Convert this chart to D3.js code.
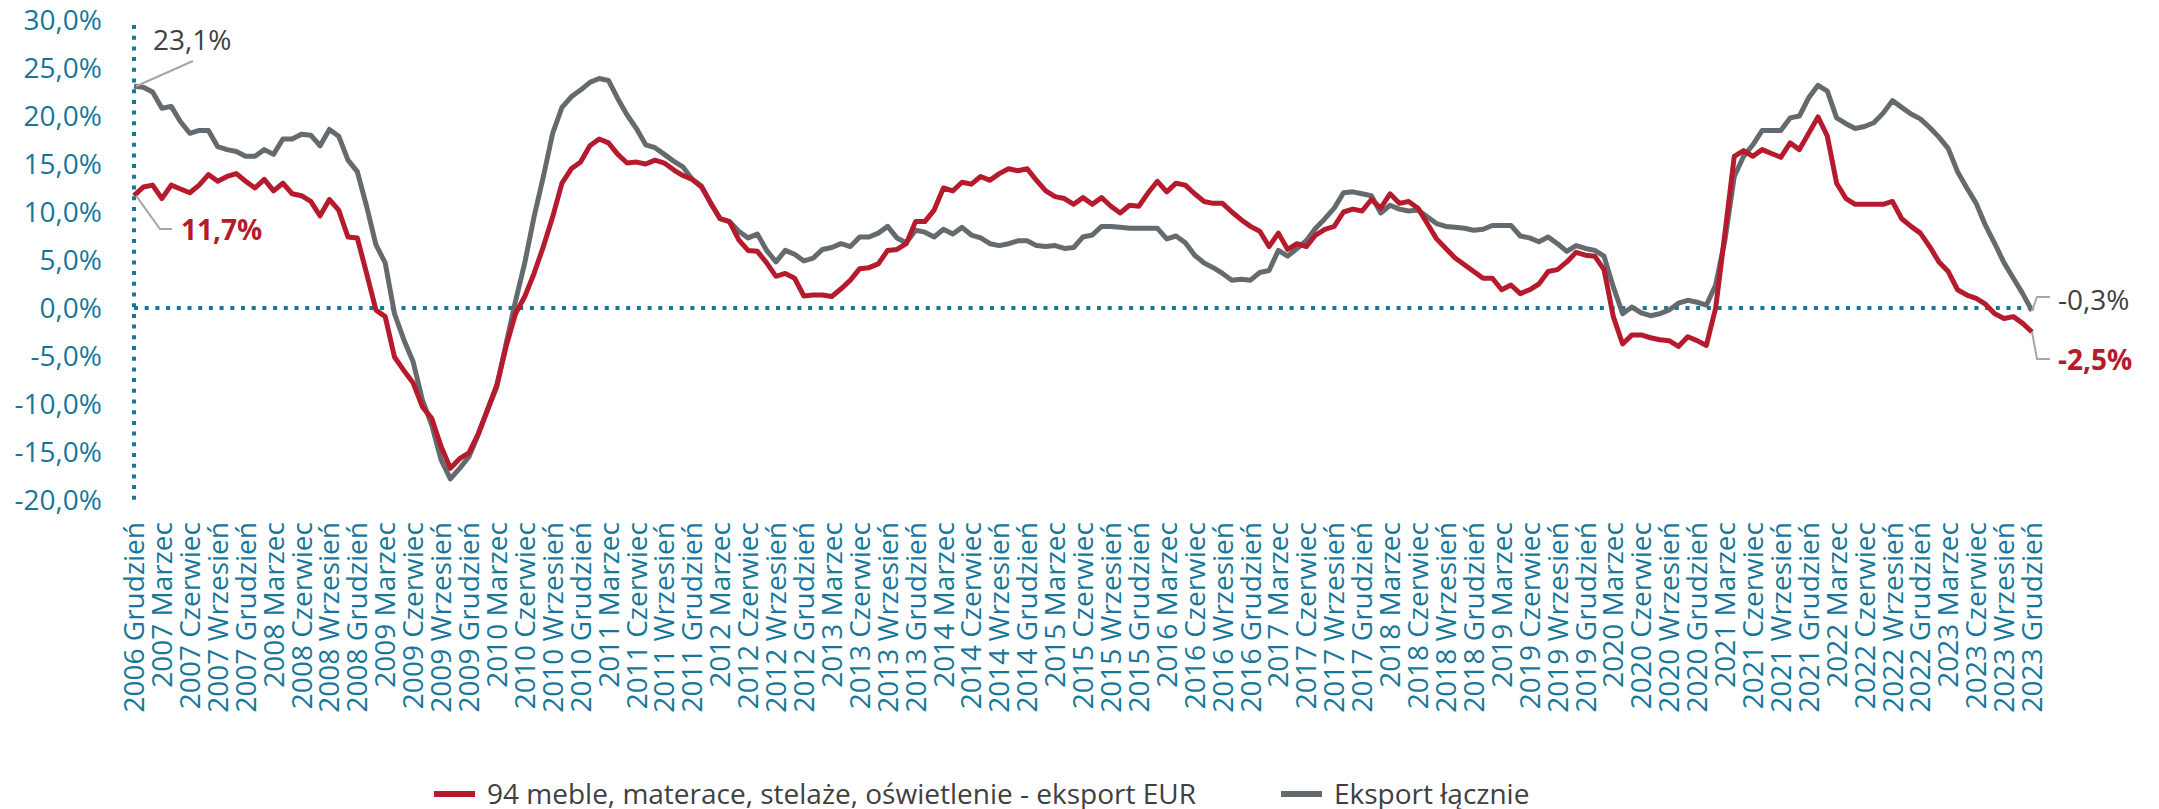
<!DOCTYPE html>
<html>
<head>
<meta charset="utf-8">
<script src="https://cdn.jsdelivr.net/npm/d3@7"></script>
<style>
  body { margin: 0; background: #fff; }
  svg { display: block; font-family: "Open Sans", sans-serif; }
</style>
</head>
<body>
<svg id="chart" width="2159" height="809"></svg>
<script>
// months Dec 2006 .. Dec 2023
var monthNames = ["Styczeń", "Luty", "Marzec", "Kwiecień", "Maj", "Czerwiec",
  "Lipiec", "Sierpień", "Wrzesień", "Październik", "Listopad", "Grudzień"];
var firstYear = 2006, lastYear = 2023;

// 94 meble, materace, stelaże, oświetlenie - eksport EUR (first value = 2006 Grudzień, then Jan..Dec rows)
var furniture = [11.7,
  12.6, 12.8, 11.4, 12.8, 12.4, 12.0, 12.8, 13.9, 13.2, 13.7, 14.0, 13.2,
  12.5, 13.4, 12.2, 13.0, 11.9, 11.7, 11.1, 9.6, 11.3, 10.2, 7.4, 7.3,
  3.6, -0.2, -0.9, -5.1, -6.5, -7.8, -10.3, -11.5, -14.4, -16.7, -15.7, -15.1,
  -13.1, -10.6, -8.0, -4.0, -0.6, 1.2, 3.6, 6.4, 9.5, 13.0, 14.5, 15.2,
  16.9, 17.6, 17.2, 16.0, 15.1, 15.2, 15.0, 15.4, 15.1, 14.4, 13.8, 13.4,
  12.6, 10.9, 9.3, 9.0, 7.1, 6.0, 5.9, 4.7, 3.3, 3.6, 3.1, 1.25,
  1.35, 1.35, 1.2, 2.0, 2.9, 4.1, 4.2, 4.6, 6.0, 6.1, 6.7, 9.0,
  9.0, 10.2, 12.5, 12.2, 13.1, 12.9, 13.7, 13.3, 14.0, 14.5, 14.3, 14.5,
  13.3, 12.2, 11.6, 11.4, 10.8, 11.5, 10.8, 11.5, 10.6, 9.9, 10.7, 10.6,
  12.0, 13.2, 12.1, 13.0, 12.8, 11.9, 11.1, 10.9, 10.9, 10.0, 9.2, 8.5,
  8.0, 6.4, 7.8, 6.1, 6.7, 6.4, 7.6, 8.2, 8.5, 10.0, 10.3, 10.1,
  11.3, 10.4, 11.9, 10.9, 11.1, 10.4, 8.8, 7.2, 6.2, 5.2, 4.5, 3.8,
  3.1, 3.1, 1.9, 2.4, 1.5, 1.9, 2.5, 3.8, 4.0, 4.8, 5.8, 5.5,
  5.4, 4.0, -0.9, -3.75, -2.8, -2.8, -3.1, -3.3, -3.4, -4.0, -3.0, -3.4,
  -3.9, 0.0, 7.8, 15.8, 16.4, 15.8, 16.5, 16.1, 15.7, 17.2, 16.5, 18.2,
  19.9, 17.9, 13.0, 11.4, 10.8, 10.8, 10.8, 10.8, 11.1, 9.3, 8.5, 7.8,
  6.4, 4.8, 3.8, 1.9, 1.35, 1.0, 0.4, -0.6, -1.1, -0.9, -1.6, -2.5];

// Eksport łącznie
var totalExport = [23.1,
  23.0, 22.5, 20.8, 21.0, 19.4, 18.2, 18.5, 18.5, 16.8, 16.5, 16.3, 15.8,
  15.8, 16.5, 16.0, 17.6, 17.6, 18.1, 18.0, 16.9, 18.6, 17.9, 15.4, 14.2,
  10.6, 6.6, 4.7, -0.6, -3.3, -5.6, -9.6, -12.2, -15.8, -17.8, -16.7, -15.5,
  -13.2, -10.6, -8.2, -3.7, 0.7, 4.7, 9.5, 13.7, 18.2, 20.9, 22.0, 22.7,
  23.5, 23.9, 23.7, 21.8, 20.1, 18.7, 17.0, 16.7, 16.0, 15.3, 14.7, 13.4,
  12.7, 10.9, 9.3, 9.0, 8.0, 7.3, 7.7, 6.0, 4.8, 6.0, 5.6, 4.9,
  5.2, 6.1, 6.3, 6.7, 6.4, 7.4, 7.4, 7.8, 8.5, 7.3, 6.8, 8.1,
  7.9, 7.4, 8.2, 7.7, 8.4, 7.6, 7.3, 6.7, 6.5, 6.7, 7.0, 7.0,
  6.5, 6.4, 6.5, 6.2, 6.3, 7.4, 7.6, 8.5, 8.5, 8.4, 8.3, 8.3,
  8.3, 8.3, 7.2, 7.5, 6.8, 5.5, 4.7, 4.2, 3.6, 2.9, 3.0, 2.9,
  3.7, 3.9, 6.0, 5.4, 6.2, 7.0, 8.3, 9.3, 10.4, 12.0, 12.1, 11.9,
  11.7, 9.9, 10.7, 10.3, 10.1, 10.2, 9.5, 8.8, 8.5, 8.4, 8.3, 8.1,
  8.2, 8.6, 8.6, 8.6, 7.5, 7.3, 6.9, 7.4, 6.7, 5.9, 6.5, 6.2,
  6.0, 5.4, 2.2, -0.6, 0.1, -0.5, -0.8, -0.6, -0.2, 0.5, 0.8, 0.6,
  0.3, 2.4, 7.1, 13.7, 15.8, 17.0, 18.5, 18.5, 18.5, 19.8, 20.0, 21.9,
  23.2, 22.6, 19.8, 19.2, 18.7, 18.9, 19.3, 20.3, 21.6, 20.9, 20.2, 19.7,
  18.8, 17.8, 16.6, 14.2, 12.5, 10.9, 8.6, 6.7, 4.7, 3.1, 1.5, -0.3];

var yTicks = [-20, -15, -10, -5, 0, 5, 10, 15, 20, 25, 30];

var seriesNames = ["94 meble, materace, stelaże, oświetlenie - eksport EUR", "Eksport łącznie"];
var seriesColors = ["#b51b2c", "#646a6d"];

// category labels
var categories = [firstYear + " " + monthNames[11]];
for (var yr = firstYear + 1; yr <= lastYear; yr++) {
  monthNames.forEach(function(m) { categories.push(yr + " " + m); });
}

var teal = "#17779a";
var svg = d3.select("#chart");

var x = d3.scalePoint().domain(categories).range([134, 2032]);
var y = d3.scaleLinear().domain([-20, 30]).range([500, 20]);

// polish style: comma decimal, plain hyphen for minus
var fmt = function(v) {
  return d3.format(".1f")(v).replace(".", ",").replace("\u2212", "-") + "%";
};

// y labels
svg.append("g").selectAll("text")
  .data(yTicks)
  .enter().append("text")
    .attr("x", 102)
    .attr("y", function(d) { return y(d); })
    .attr("dy", "0.36em")
    .attr("text-anchor", "end")
    .attr("font-size", 28)
    .attr("fill", teal)
    .text(fmt);

// x labels, every 3rd month
svg.append("g").selectAll("text")
  .data(categories.filter(function(d, i) { return i % 3 == 0; }))
  .enter().append("text")
    .attr("transform", function(d) { return "translate(" + x(d) + ",522) rotate(-90)"; })
    .attr("dy", "0.36em")
    .attr("text-anchor", "end")
    .attr("font-size", 28)
    .attr("fill", teal)
    .text(function(d) { return d; });

// dotted axis lines
svg.append("line")
  .attr("x1", 134).attr("x2", 2038)
  .attr("y1", y(0)).attr("y2", y(0))
  .attr("stroke", teal).attr("stroke-width", 4)
  .attr("stroke-dasharray", "4,6.7");

svg.append("line")
  .attr("x1", 134).attr("x2", 134)
  .attr("y1", y(30) + 5).attr("y2", y(-20))
  .attr("stroke", teal).attr("stroke-width", 4)
  .attr("stroke-dasharray", "4,6.7");

// series lines
var line = d3.line()
  .x(function(d, i) { return x(categories[i]); })
  .y(function(d) { return y(d); });

[totalExport, furniture].forEach(function(vals, k) {
  svg.append("path")
    .datum(vals)
    .attr("fill", "none")
    .attr("stroke", seriesColors[1 - k])
    .attr("stroke-width", 5)
    .attr("stroke-linejoin", "round")
    .attr("d", line);
});

// end labels with leader lines
var firstX = x(categories[0]), lastX = x(categories[categories.length - 1]);
var lastF = furniture[furniture.length - 1], lastT = totalExport[totalExport.length - 1];
var leader = "#a6a6a6";

svg.append("path")
  .attr("d", "M" + (firstX + 2) + "," + y(totalExport[0]) + "L193,61")
  .attr("stroke", leader).attr("stroke-width", 2).attr("fill", "none");
svg.append("text")
  .attr("x", 153).attr("y", 40).attr("dy", "0.36em")
  .attr("font-size", 28).attr("fill", "#404040")
  .text(fmt(totalExport[0]));

svg.append("path")
  .attr("d", "M" + (firstX + 2) + "," + y(furniture[0]) + "L160,229L172,229")
  .attr("stroke", leader).attr("stroke-width", 2).attr("fill", "none");
svg.append("text")
  .attr("x", 181).attr("y", 230).attr("dy", "0.36em")
  .attr("font-size", 28).attr("font-weight", "bold").attr("fill", seriesColors[0])
  .text(fmt(furniture[0]));

svg.append("path")
  .attr("d", "M" + lastX + "," + y(lastT) + "L" + (lastX + 5) + ",297L" + (lastX + 18) + ",297")
  .attr("stroke", leader).attr("stroke-width", 2).attr("fill", "none");
svg.append("text")
  .attr("x", 2058).attr("y", 300).attr("dy", "0.36em")
  .attr("font-size", 28).attr("fill", "#404040")
  .text(fmt(lastT));

svg.append("path")
  .attr("d", "M" + lastX + "," + y(lastF) + "L" + (lastX + 5) + ",359L" + (lastX + 18) + ",359")
  .attr("stroke", leader).attr("stroke-width", 2).attr("fill", "none");
svg.append("text")
  .attr("x", 2058).attr("y", 360).attr("dy", "0.36em")
  .attr("font-size", 28).attr("font-weight", "bold").attr("fill", seriesColors[0])
  .text(fmt(lastF));

// legend
var legendX = [434, 1281];
var legend = svg.append("g").selectAll("g")
  .data(seriesNames)
  .enter().append("g")
    .attr("transform", function(d, i) { return "translate(" + legendX[i] + ",794)"; });

legend.append("line")
  .attr("x1", 0).attr("x2", 41)
  .attr("stroke", function(d, i) { return seriesColors[i]; })
  .attr("stroke-width", 6);

legend.append("text")
  .attr("x", 53).attr("dy", "0.36em")
  .attr("font-size", 28)
  .attr("fill", "#404040")
  .text(function(d) { return d; });
</script>
</body>
</html>
